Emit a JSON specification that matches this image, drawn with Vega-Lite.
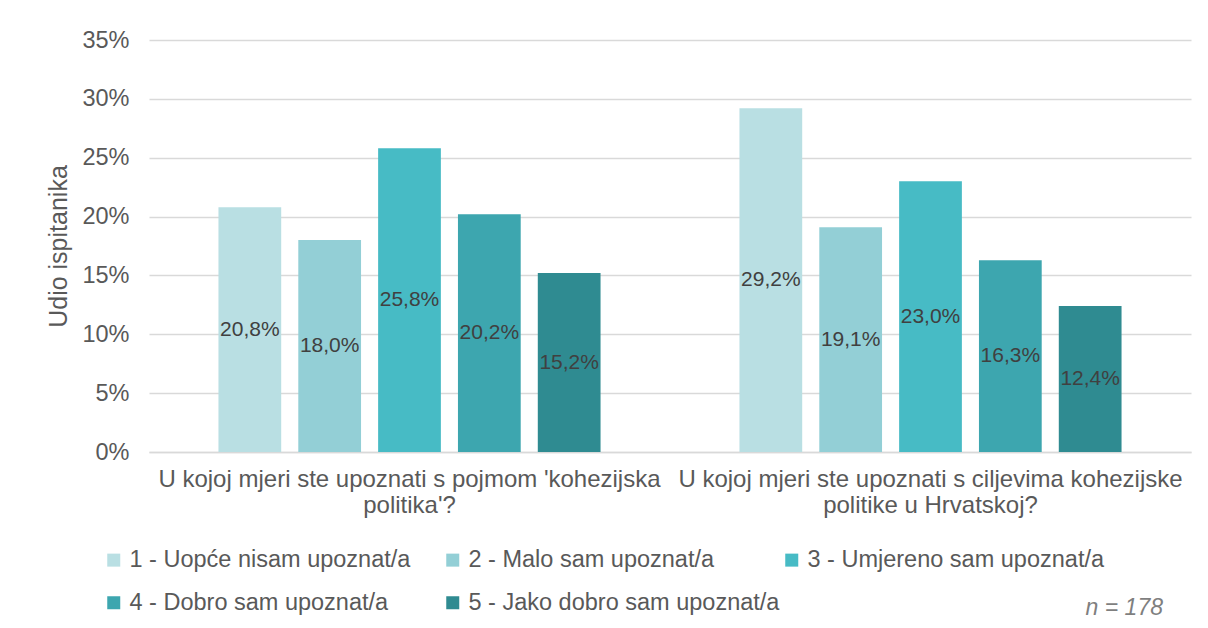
{
  "$schema": "https://vega.github.io/schema/vega-lite/v6.json",
  "width": 1042,
  "height": 412,
  "autosize": {"type": "none"},
  "padding": {"left": 149, "top": 40, "right": 17, "bottom": 176},
  "background": "white",
  "config": {
    "locale": {"number": {"decimal": ",", "thousands": ".", "grouping": [3], "currency": ["", " €"]}},
    "view": {"stroke": null},
    "font": "Liberation Sans"
  },
  "title": {
    "text": "n = 178",
    "orient": "bottom",
    "anchor": "end",
    "fontStyle": "italic",
    "fontWeight": "normal",
    "fontSize": 23,
    "color": "#7F7F7F",
    "offset": -18,
    "dx": -28,
    "font": "Liberation Sans"
  },
  "data": {
    "values": [
      {"pitanje": "U kojoj mjeri ste upoznati s pojmom 'kohezijska politika'?", "odgovor": "1 - Uopće nisam upoznat/a", "udio": 0.208},
      {"pitanje": "U kojoj mjeri ste upoznati s pojmom 'kohezijska politika'?", "odgovor": "2 - Malo sam upoznat/a", "udio": 0.180},
      {"pitanje": "U kojoj mjeri ste upoznati s pojmom 'kohezijska politika'?", "odgovor": "3 - Umjereno sam upoznat/a", "udio": 0.258},
      {"pitanje": "U kojoj mjeri ste upoznati s pojmom 'kohezijska politika'?", "odgovor": "4 - Dobro sam upoznat/a", "udio": 0.202},
      {"pitanje": "U kojoj mjeri ste upoznati s pojmom 'kohezijska politika'?", "odgovor": "5 - Jako dobro sam upoznat/a", "udio": 0.152},
      {"pitanje": "U kojoj mjeri ste upoznati s ciljevima kohezijske politike u Hrvatskoj?", "odgovor": "1 - Uopće nisam upoznat/a", "udio": 0.292},
      {"pitanje": "U kojoj mjeri ste upoznati s ciljevima kohezijske politike u Hrvatskoj?", "odgovor": "2 - Malo sam upoznat/a", "udio": 0.191},
      {"pitanje": "U kojoj mjeri ste upoznati s ciljevima kohezijske politike u Hrvatskoj?", "odgovor": "3 - Umjereno sam upoznat/a", "udio": 0.230},
      {"pitanje": "U kojoj mjeri ste upoznati s ciljevima kohezijske politike u Hrvatskoj?", "odgovor": "4 - Dobro sam upoznat/a", "udio": 0.163},
      {"pitanje": "U kojoj mjeri ste upoznati s ciljevima kohezijske politike u Hrvatskoj?", "odgovor": "5 - Jako dobro sam upoznat/a", "udio": 0.124}
    ]
  },
  "encoding": {
    "x": {
      "field": "pitanje",
      "type": "nominal",
      "sort": null,
      "scale": {"paddingInner": 0, "paddingOuter": 0},
      "axis": {
        "title": null,
        "labelAngle": 0,
        "labelFontSize": 24,
        "labelColor": "#595959",
        "labelLimit": 700,
        "labelLineHeight": 26,
        "labelPadding": 15,
        "ticks": false,
        "domainColor": "#D9D9D9",
        "domainWidth": 1.5,
        "labelExpr": "datum.value == \"U kojoj mjeri ste upoznati s pojmom 'kohezijska politika'?\" ? [\"U kojoj mjeri ste upoznati s pojmom 'kohezijska\", \"politika'?\"] : [\"U kojoj mjeri ste upoznati s ciljevima kohezijske\", \"politike u Hrvatskoj?\"]"
      }
    },
    "xOffset": {
      "field": "odgovor",
      "type": "nominal",
      "scale": {"paddingInner": 0.214, "paddingOuter": 0.87}
    }
  },
  "layer": [
    {
      "mark": {"type": "bar"},
      "encoding": {
        "y": {
          "field": "udio",
          "type": "quantitative",
          "scale": {"domain": [0, 0.35]},
          "axis": {
            "format": ".0%",
            "values": [0, 0.05, 0.1, 0.15, 0.2, 0.25, 0.3, 0.35],
            "title": "Udio ispitanika",
            "titleFontSize": 25,
            "titleFontWeight": "normal",
            "titleColor": "#595959",
            "titlePadding": 10,
            "labelFontSize": 23.5,
            "labelColor": "#595959",
            "labelPadding": 20,
            "ticks": false,
            "domain": false,
            "gridColor": "#D9D9D9",
            "gridWidth": 1.5
          }
        },
        "color": {
          "field": "odgovor",
          "type": "nominal",
          "scale": {
            "domain": ["1 - Uopće nisam upoznat/a", "2 - Malo sam upoznat/a", "3 - Umjereno sam upoznat/a", "4 - Dobro sam upoznat/a", "5 - Jako dobro sam upoznat/a"],
            "range": ["#B9DFE3", "#93CFD6", "#47BBC5", "#3DA6AF", "#2F8B91"]
          },
          "legend": {
            "title": null,
            "orient": "none",
            "direction": "horizontal",
            "legendX": -47,
            "legendY": 508,
            "columns": 3,
            "gridAlign": "all",
            "columnPadding": 0,
            "rowPadding": 18,
            "symbolType": "square",
            "symbolSize": 169,
            "symbolStrokeWidth": 0,
            "labelFontSize": 23.5,
            "labelColor": "#595959",
            "labelLimit": 500,
            "labelOffset": 4,
            "padding": 0
          }
        }
      }
    },
    {
      "mark": {"type": "text", "fontSize": 21, "color": "#404040", "baseline": "middle", "align": "center"},
      "encoding": {
        "y": {"field": "udio", "type": "quantitative", "scale": {"domain": [0, 0.7]}, "axis": null},
        "text": {"field": "udio", "type": "quantitative", "format": ".1%"}
      }
    }
  ],
  "resolve": {"scale": {"y": "independent"}}
}
